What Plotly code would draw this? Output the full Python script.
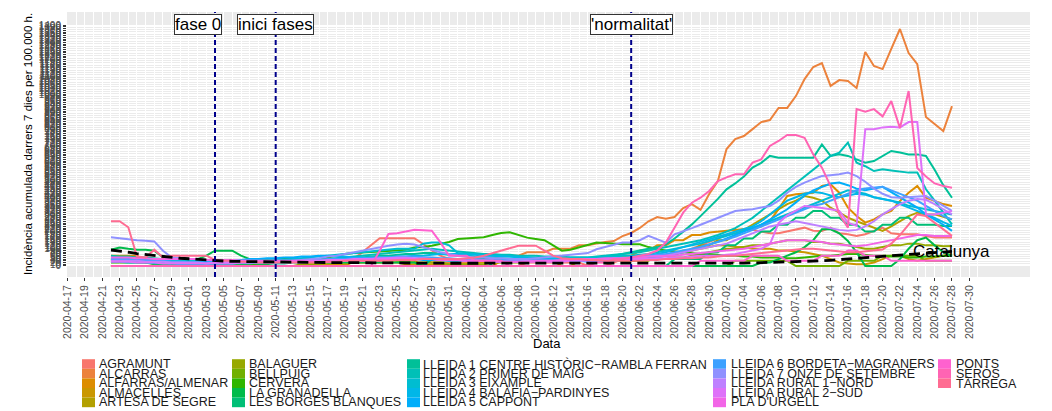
import math
import pandas as pd
import plotly.graph_objects as go

# ---------------- data ----------------
dates = pd.date_range("2020-04-22", "2020-07-28", freq="D").strftime("%Y-%m-%d").tolist()

areas = ["AGRAMUNT", "ALCARRAS", "ALFARRAS/ALMENAR", "ALMACELLES", "ARTESA DE SEGRE",
         "BALAGUER", "BELLPUIG", "CERVERA", "LA GRANADELLA", "LES BORGES BLANQUES",
         "LLEIDA 1 CENTRE HISTÒRIC\u2212RAMBLA FERRAN", "LLEIDA 2 PRIMER DE MAIG", "LLEIDA 3 EIXAMPLE",
         "LLEIDA 4 BALÀFIA\u2212PARDINYES", "LLEIDA 5 CAPPONT",
         "LLEIDA 6 BORDETA\u2212MAGRANERS", "LLEIDA 7 ONZE DE SETEMBRE", "LLEIDA RURAL 1\u2212NORD",
         "LLEIDA RURAL 2\u2212SUD", "PLA D'URGELL", "PONTS", "SERÒS", "TÀRREGA"]

AGRAMUNT = [40,40,40,20,20,20,20,0,0,0,
            0,0,0,0,0,0,0,0,0,0,
            0,0,0,0,0,0,0,0,40,80,
            120,161,161,161,161,161,128,90,60,40,
            20,20,20,0,0,0,0,0,20,20,
            20,20,20,20,20,0,0,0,20,40,
            40,40,60,60,60,80,80,100,120,140,
            160,180,200,210,210,200,190,190,200,210,
            223,205,204,223,190,184,175,185,204,223,
            190,184,184,184,175,165,165,165]
ALCARRAS = [40,40,40,40,20,20,20,20,0,0,
            0,0,0,0,0,0,0,0,0,0,
            0,0,0,0,0,0,20,20,20,20,
            20,20,20,40,40,40,40,20,20,20,
            20,20,40,40,40,60,60,60,80,80,
            80,100,100,100,120,120,130,140,145,174,
            192,221,260,285,275,285,337,360,326,419,
            494,680,738,756,796,837,849,919,919,988,
            1087,1157,1180,1047,1081,1076,1035,1244,1163,1145,
            1262,1378,1238,1174,866,826,785,930]
ALFARRAS = [60,60,60,60,30,30,30,30,30,0,
            0,0,0,0,0,0,0,0,0,0,
            0,0,0,0,0,0,0,0,30,30,
            30,30,30,30,30,30,0,0,0,0,
            0,0,0,0,0,30,30,30,30,30,
            30,30,0,0,0,0,30,30,60,60,
            60,90,90,120,120,150,150,180,180,195,
            200,205,210,215,220,230,262,330,407,417,
            420,426,465,475,426,339,291,252,271,300,
            320,378,426,465,397,378,360,349]
ALMACELLES = [0,0,0,0,0,0,0,0,0,0,
              0,0,0,0,0,0,0,0,0,0,
              0,0,0,10,10,10,10,10,20,20,
              20,20,20,20,10,10,10,10,10,10,
              10,10,20,20,20,30,30,30,40,40,
              40,40,40,30,30,30,30,40,40,50,
              40,45,50,55,60,70,80,90,100,110,
              120,120,110,110,100,100,100,90,90,85,
              80,70,60,40,20,15,10,10,20,40,
              60,60,40,30,40,50,60,70]
ARTESA = [0,0,0,0,0,0,0,0,0,0,
          0,0,0,0,0,0,0,0,0,0,
          0,0,0,0,0,0,0,0,0,0,
          0,0,0,0,0,0,0,0,0,0,
          0,0,0,0,0,0,0,0,0,0,
          0,0,0,0,30,30,30,30,30,30,
          30,30,30,60,60,60,90,90,120,120,
          150,150,180,210,240,270,300,330,360,380,
          407,397,380,339,310,281,260,240,220,204,
          230,262,290,310,300,300,285,271]
BALAGUER = [30,30,30,30,20,20,20,20,10,10,
            10,10,10,10,10,0,0,0,0,0,
            0,0,10,10,10,20,20,20,30,30,
            30,30,30,30,20,20,20,20,20,10,
            10,10,10,10,20,20,20,20,30,30,
            30,30,40,40,40,40,30,30,30,30,
            30,30,40,40,40,50,50,60,70,80,
            90,100,100,110,120,120,130,140,150,150,
            150,140,140,130,130,120,110,100,100,110,
            120,120,130,130,120,120,115,116]
BELLPUIG = [0,0,0,0,0,0,0,0,0,0,
            0,0,0,0,0,0,0,0,0,0,
            0,0,0,0,0,0,0,0,0,0,
            0,0,0,0,0,0,0,0,0,0,
            0,0,0,0,0,0,0,0,0,0,
            0,0,0,0,0,0,0,0,0,0,
            0,0,0,0,0,0,0,0,0,0,
            0,0,30,30,30,30,30,30,30,0,
            0,0,0,0,0,30,30,30,30,60,
            60,60,60,60,30,30,30,30]
CERVERA = [20,20,20,20,20,10,10,10,10,10,
           10,10,10,10,10,10,10,10,10,20,
           20,30,30,40,40,50,60,70,75,80,
           82,85,87,89,95,108,110,118,130,140,
           157,160,163,167,180,192,196,180,165,157,
           150,120,89,95,108,120,137,133,128,126,
           126,126,110,97,90,85,80,75,70,70,
           65,60,60,55,55,50,50,50,45,45,
           50,55,60,60,65,70,70,65,60,60,
           55,55,50,50,55,55,60,58]
LA_GRANADELLA = [95,108,100,95,95,89,50,40,40,40,
                 40,60,89,89,89,60,40,40,40,40,
                 40,40,40,40,40,20,20,20,20,20,
                 20,20,20,20,20,20,0,0,0,0,
                 0,0,0,0,0,0,0,0,0,0,
                 0,0,0,0,0,0,0,0,0,0,
                 0,0,0,0,0,0,0,0,0,0,
                 0,0,0,0,0,20,20,40,60,80,
                 110,150,213,213,190,145,80,0,0,0,
                 0,40,100,150,165,120,80,58]
LES_BORGES = [40,40,40,40,40,40,40,0,0,0,
              0,0,0,0,0,0,0,0,0,0,
              0,0,0,0,0,0,0,0,0,0,
              0,0,0,0,0,0,0,40,40,40,
              40,40,40,40,0,0,0,0,0,0,
              0,0,0,0,0,0,0,0,0,0,
              0,0,0,0,0,40,40,40,40,80,
              80,120,120,160,160,200,200,240,240,280,
              280,320,320,280,280,240,240,200,200,240,
              240,280,280,240,240,240,233,233]
LLEIDA_1 = [60,55,55,50,50,45,40,35,30,30,
            30,25,25,20,20,20,20,15,15,15,
            15,20,20,25,30,30,35,40,45,50,
            55,60,60,65,70,70,75,75,70,65,
            60,60,55,50,45,45,40,40,40,40,
            35,35,35,30,30,30,40,50,60,70,
            80,90,100,110,126,160,200,242,290,339,
            390,446,480,520,572,600,640,630,630,630,
            630,630,707,640,650,640,620,601,610,640,
            669,660,649,649,640,560,470,397]
LLEIDA_2 = [30,30,35,35,30,30,25,25,20,20,
            20,20,15,15,15,15,15,20,20,20,
            20,25,25,30,35,40,45,50,55,60,
            65,70,75,80,85,90,95,100,95,90,
            85,80,75,70,70,65,65,60,60,60,
            55,55,55,50,50,50,55,60,65,70,
            75,80,90,100,110,120,130,140,150,165,
            180,200,220,250,280,320,360,400,440,480,
            520,560,600,640,659,717,601,580,552,562,
            555,548,543,543,446,380,310,242]
LLEIDA_3 = [50,50,45,45,40,40,35,35,30,30,
            30,30,25,25,25,30,30,30,30,35,
            35,40,45,50,55,60,65,70,75,80,
            85,90,95,100,100,100,130,137,137,120,
            75,70,70,65,60,60,55,55,50,50,
            45,45,45,50,50,50,50,55,55,60,
            60,65,70,80,90,100,110,120,130,145,
            160,175,190,205,220,240,260,280,300,320,
            340,360,380,400,420,440,430,420,400,390,
            380,370,350,340,330,320,310,300]
LLEIDA_4 = [25,25,20,20,20,15,15,15,10,10,
            10,10,15,15,15,20,20,20,25,25,
            25,30,30,30,35,35,35,40,40,45,
            45,50,50,55,55,60,60,65,70,70,
            70,65,65,60,60,55,55,50,50,45,
            45,40,40,40,35,35,35,40,40,45,
            50,55,60,70,80,95,110,125,140,155,
            170,185,200,215,230,260,300,340,380,400,
            420,430,425,410,400,410,420,415,400,390,
            380,360,340,320,300,280,255,233]
LLEIDA_5 = [35,35,30,30,30,25,25,25,20,20,
            20,25,25,30,30,35,40,40,45,45,
            50,50,55,55,60,60,55,55,50,50,
            45,45,45,40,40,40,35,35,35,30,
            30,30,30,35,35,35,40,40,40,40,
            35,35,30,30,30,25,25,30,30,35,
            35,40,45,50,60,70,80,95,110,125,
            140,160,180,200,220,240,270,300,330,370,
            410,440,460,480,485,470,450,440,450,460,
            430,400,370,340,300,270,240,204]
LLEIDA_6 = [40,40,40,35,35,30,30,25,25,20,
            20,20,20,25,25,25,30,30,30,30,
            30,30,35,35,35,40,40,40,45,45,
            50,50,50,55,55,55,50,50,45,45,
            40,40,40,35,35,35,30,30,30,30,
            30,30,30,35,35,35,40,40,45,45,
            50,55,60,65,70,80,90,100,110,125,
            140,155,170,190,210,230,250,270,290,310,
            330,350,360,380,400,420,440,450,455,460,
            440,420,400,380,350,320,290,271]
LLEIDA_7 = [167,160,153,150,147,143,89,50,45,40,
            40,35,35,30,30,30,30,25,25,25,
            25,30,35,40,45,55,60,70,80,90,
            100,110,118,125,130,125,110,95,80,70,
            60,55,50,50,45,45,40,40,40,45,
            50,55,60,65,70,75,97,110,126,136,
            136,150,175,155,136,184,200,220,240,260,
            280,300,320,325,330,340,349,380,426,460,
            485,505,523,528,533,543,523,490,450,420,
            400,397,400,405,407,380,350,320]
RURAL_1 = [30,30,30,30,25,25,25,20,20,20,
           20,15,15,15,15,20,20,20,20,20,
           25,25,25,30,30,30,35,35,35,40,
           40,45,45,50,50,45,45,40,40,35,
           35,30,30,30,25,25,25,25,30,30,
           30,30,30,35,35,35,40,40,40,45,
           45,50,55,60,60,70,80,90,100,110,
           120,130,150,170,190,210,230,240,250,260,
           250,240,230,220,210,205,210,230,260,300,
           330,360,380,390,385,360,330,300]
RURAL_2 = [25,25,25,20,20,20,15,15,15,15,
           15,15,20,20,20,20,20,25,25,25,
           25,25,30,30,30,35,35,35,40,40,
           40,40,45,45,45,40,40,40,35,35,
           35,30,30,30,30,25,25,25,25,25,
           25,25,25,30,30,30,30,35,35,35,
           40,40,40,45,45,50,50,55,60,60,
           60,65,70,80,90,100,126,250,295,320,
           349,345,339,330,320,252,233,795,795,806,
           810,806,837,837,300,300,310,320]
PLA_URGELL = [50,50,50,45,45,40,40,40,40,40,
              40,35,35,35,35,30,30,30,30,30,
              30,30,30,25,25,25,25,30,30,30,
              30,35,35,35,40,40,40,40,35,35,
              35,30,30,30,30,25,25,25,25,30,
              30,30,35,35,40,40,40,45,45,45,
              50,50,55,55,60,60,65,70,75,80,
              85,90,95,100,110,120,130,140,150,150,
              150,145,140,130,125,120,115,120,130,140,
              150,160,170,180,180,175,175,175]
PONTS = [0,0,0,0,0,0,0,0,0,0,
         0,0,0,0,0,0,0,0,0,0,
         0,0,0,0,0,0,0,0,0,0,
         0,89,186,190,200,211,208,205,137,60,
         60,60,30,30,30,30,0,0,0,0,
         0,0,0,0,0,0,0,0,0,0,
         0,0,0,0,0,0,0,0,30,30,
         30,30,30,30,60,60,60,60,30,30,
         30,30,60,60,60,90,90,60,60,60,
         30,30,30,30,30,30,30,30]
SEROS = [0,0,0,0,0,0,0,0,0,0,
         0,0,0,0,0,0,0,0,0,0,
         0,0,0,0,0,0,0,0,0,0,
         0,0,0,0,0,0,0,0,0,0,
         0,0,0,0,0,0,0,0,0,0,
         0,0,0,0,0,0,20,20,40,40,
         50,60,70,90,136,223,310,368,397,436,
         494,515,533,533,601,620,698,727,762,762,
         746,649,572,465,300,223,912,897,912,870,
         959,802,1017,570,520,480,465,455]
TARREGA = [260,260,225,55,50,95,50,60,60,60,
           60,60,35,30,30,25,25,20,20,20,
           20,20,20,20,20,25,25,30,30,30,
           30,30,30,35,35,35,40,40,40,40,
           40,45,50,60,75,90,105,118,118,118,
           90,60,45,40,40,35,35,30,30,30,
           30,30,35,35,40,40,45,45,50,50,
           55,60,60,65,70,75,80,85,90,95,
           100,100,95,90,85,80,80,85,90,96,
           130,180,240,300,290,250,210,175]
CATALUNYA = [93,88,80,72,66,60,54,48,45,42,
             38,34,31,29,27,26,25,24,24,23,
             22,22,21,21,20,20,20,19,19,19,
             18,18,18,18,17,17,17,17,16,16,
             16,16,16,15,15,15,15,15,15,14,
             14,14,14,14,14,13,13,13,13,13,
             13,13,13,13,14,14,14,15,15,15,
             16,16,17,17,18,19,20,21,22,24,
             26,28,30,33,36,40,44,48,52,56,
             60,63,66,70,73,77,81,85]

series_values = [AGRAMUNT, ALCARRAS, ALFARRAS, ALMACELLES, ARTESA, BALAGUER, BELLPUIG,
                 CERVERA, LA_GRANADELLA, LES_BORGES, LLEIDA_1, LLEIDA_2, LLEIDA_3, LLEIDA_4,
                 LLEIDA_5, LLEIDA_6, LLEIDA_7, RURAL_1, RURAL_2, PLA_URGELL, PONTS, SEROS, TARREGA]

x_tick_labels = pd.date_range("2020-04-17", "2020-07-30", freq="2D").strftime("%Y-%m-%d").tolist()
x_minor_ticks = pd.date_range("2020-04-18", "2020-07-31", freq="2D").strftime("%Y-%m-%d").tolist()
y_tick_values = list(range(0, 1401, 10))

phase_dates = ["2020-05-04", "2020-05-11", "2020-06-21"]
phase_label_dates = ["2020-05-02", "2020-05-11", "2020-06-21"]
phase_labels = ["fase 0", "inici fases", "'normalitat'"]
phase_label_y = 1405

# ---------------- style helpers ----------------
def hcl_hex(h, c=100.0, l=65.0):
    WY, Wu, Wv = 100.0, 0.1978398, 0.4683363
    hr = math.radians(h)
    U, V = c * math.cos(hr), c * math.sin(hr)
    Y = WY * (((l + 16) / 116) ** 3 if l > 7.999592 else l / 903.3)
    u = U / (13 * l) + Wu
    v = V / (13 * l) + Wv
    X = 9.0 * Y * u / (4 * v)
    Z = -X / 3 - 5 * Y + 3 * Y / v

    def g(t):
        return 1.055 * t ** (1 / 2.4) - 0.055 if t > 0.00304 else 12.92 * t

    rgb = [g((3.240479 * X - 1.537150 * Y - 0.498535 * Z) / WY),
           g((-0.969256 * X + 1.875992 * Y + 0.041556 * Z) / WY),
           g((0.055648 * X - 0.204043 * Y + 1.057311 * Z) / WY)]
    rgb = [min(1.0, max(0.0, t)) for t in rgb]
    return "#%02X%02X%02X" % tuple(int(round(255 * t)) for t in rgb)

n = len(areas)
colors = [hcl_hex(15 + 360.0 / n * i) for i in range(n)]

FONT = "Liberation Sans, Arial, sans-serif"
OFF = 8                       # page body margin of the html page
W, H = 1052 - OFF, 411 - OFF  # figure size so that it fills the window
PL, PR, PT, PB = 67, 1030, 12, 277   # panel edges in window pixels


def px(x):
    return (x - PL) / (PR - PL)


def py(y):
    return (PB - y) / (PB - PT)


fig = go.Figure()
for name, vals, col in zip(areas, series_values, colors):
    fig.add_trace(go.Scatter(x=dates, y=vals, mode="lines", name=name,
                             line=dict(color=col, width=2), showlegend=False,
                             hoverinfo="skip"))
fig.add_trace(go.Scatter(x=dates, y=CATALUNYA, mode="lines", name="Catalunya",
                         line=dict(color="black", width=2.8, dash="11px,6px"),
                         showlegend=False, hoverinfo="skip"))

shapes = []
annotations = []

for d, ld, lab in zip(phase_dates, phase_label_dates, phase_labels):
    shapes.append(dict(type="line", xref="x", yref="paper", x0=d, x1=d, y0=0, y1=1,
                       line=dict(color="#00008B", width=2, dash="5px,3px"), layer="above"))
    annotations.append(dict(x=ld, y=phase_label_y, xref="x", yref="y", text=lab,
                            showarrow=False, font=dict(family=FONT, size=17, color="black"),
                            bgcolor="white", bordercolor="#333333", borderwidth=1, borderpad=0,
                            xanchor="center", yanchor="middle"))

annotations.append(dict(x=dates[-1], y=CATALUNYA[-1], xref="x", yref="y", text="Catalunya",
                        showarrow=False, font=dict(family=FONT, size=17, color="black"),
                        xanchor="center", yanchor="middle"))

annotations.append(dict(x=px(27.5), y=0.5, xref="paper", yref="paper",
                        text="Incidència acumulada darrers 7 dies per 100.000 h.",
                        textangle=-90, showarrow=False,
                        font=dict(family=FONT, size=11.5, color="black"),
                        xanchor="center", yanchor="middle"))
annotations.append(dict(x=px(547), y=py(343), xref="paper", yref="paper", text="Data",
                        showarrow=False, font=dict(family=FONT, size=13, color="black"),
                        xanchor="center", yanchor="middle"))

key_x = [82, 232, 407, 713, 938]
text_x = [98, 248, 422, 730, 955]
row_y = [364, 373.6, 383.2, 392.8, 402.4]
for i, (name, col) in enumerate(zip(areas, colors)):
    c, r = divmod(i, 5)
    yc = row_y[r]
    shapes.append(dict(type="rect", xref="paper", yref="paper",
                       x0=px(key_x[c]), x1=px(key_x[c] + 13),
                       y0=py(yc + 4.8), y1=py(yc - 4.8),
                       fillcolor=col, line=dict(width=0), layer="above"))
    annotations.append(dict(x=px(text_x[c]), y=py(yc), xref="paper", yref="paper",
                            text=name, showarrow=False,
                            font=dict(family=FONT, size=12.5, color="#1a1a1a"),
                            xanchor="left", yanchor="middle", borderpad=0))

fig.update_layout(
    width=W, height=H,
    margin=dict(l=PL - OFF, r=(W + OFF) - PR, t=PT - OFF, b=(H + OFF) - PB),
    paper_bgcolor="white", plot_bgcolor="#EBEBEB",
    font=dict(family=FONT),
    shapes=shapes, annotations=annotations,
    showlegend=False,
)
fig.update_xaxes(
    type="date", range=["2020-04-16 22:20", "2020-08-06 00:00"],
    tickmode="array", tickvals=x_tick_labels, ticktext=x_tick_labels,
    tickangle=-90, tickfont=dict(family=FONT, size=10.5, color="#4D4D4D"),
    ticks="outside", ticklen=3, tickcolor="#333333", tickwidth=1,
    showgrid=True, gridcolor="white", gridwidth=1,
    minor=dict(tickmode="array", tickvals=x_minor_ticks, showgrid=True,
               gridcolor="white", gridwidth=0.5, ticks=""),
    zeroline=False, showline=False, automargin=False,
)
fig.update_yaxes(
    range=[-64, 1477],
    tickmode="array", tickvals=y_tick_values, ticktext=[str(v) for v in y_tick_values],
    tickfont=dict(family=FONT, size=10, color="#4D4D4D"),
    ticks="outside", ticklen=3, tickcolor="#333333", tickwidth=1,
    showgrid=True, gridcolor="white", gridwidth=0.5,
    zeroline=False, showline=False, automargin=False,
)

fig.write_html("out.html")
